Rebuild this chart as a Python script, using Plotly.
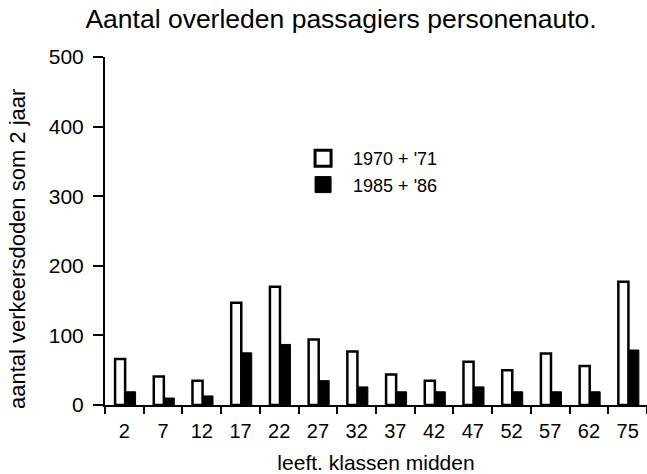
import plotly.graph_objects as go

categories = ["2", "7", "12", "17", "22", "27", "32", "37", "42", "47", "52", "57", "62", "75"]
deaths_1970_71 = [66, 41, 35, 147, 170, 94, 77, 44, 35, 62, 50, 74, 56, 177]
deaths_1985_86 = [19, 10, 13, 75, 87, 35, 26, 19, 19, 26, 19, 19, 19, 79]
y_ticks = [0, 100, 200, 300, 400, 500]
series_names = ["1970 + '71", "1985 + '86"]

FONT = "Liberation Sans, Arial, Helvetica, sans-serif"
W, H = 647, 474

fig = go.Figure()
fig.add_trace(go.Bar(
    x=categories, y=deaths_1970_71, name=series_names[0], showlegend=False,
    marker=dict(color="white", line=dict(color="black", width=2.5)),
    offset=-0.24, width=0.26,
))
fig.add_trace(go.Bar(
    x=categories, y=deaths_1985_86, name=series_names[1], showlegend=False,
    marker=dict(color="black", line=dict(color="black", width=1)),
    offset=0.03, width=0.26,
))
# legend entries (bigger square symbols, no marks in the plot)
fig.add_trace(go.Scatter(
    x=[None], y=[None], mode="markers", name=series_names[0],
    marker=dict(symbol="square", size=16, color="white",
                line=dict(color="black", width=3)),
))
fig.add_trace(go.Scatter(
    x=[None], y=[None], mode="markers", name=series_names[1],
    marker=dict(symbol="square", size=16, color="black",
                line=dict(color="black", width=1)),
))

fig.update_layout(
    width=W, height=H,
    margin=dict(l=105, r=0, t=57, b=69),
    paper_bgcolor="white", plot_bgcolor="white",
    barmode="overlay",
    font=dict(family=FONT, color="black"),
    title=dict(text="Aantal overleden passagiers personenauto.",
               x=341 / W, xanchor="center", xref="container",
               y=1 - 19 / H, yanchor="middle", yref="container",
               font=dict(size=26.5, family=FONT, color="black")),
    showlegend=True,
    legend=dict(x=0.347, y=0.7615, xanchor="left", yanchor="top",
                bgcolor="rgba(0,0,0,0)", font=dict(size=18, family=FONT),
                itemsizing="trace", itemwidth=50, tracegroupgap=0),
    xaxis=dict(type="category", showline=True, linecolor="black", linewidth=2,
               ticks="outside", tickson="boundaries", ticklen=7, tickwidth=2,
               tickcolor="black", showgrid=False, zeroline=False,
               ticklabelstandoff=7,
               tickfont=dict(size=20, family=FONT),
               title=dict(text="leeft. klassen midden", standoff=14,
                          font=dict(size=21, family=FONT))),
    yaxis=dict(range=[0, 500], tickvals=y_ticks, showline=True, linecolor="black",
               linewidth=2, ticks="outside", ticklen=10, tickwidth=2,
               tickcolor="black", showgrid=False, zeroline=False,
               ticklabelstandoff=5,
               tickfont=dict(size=21, family=FONT)),
    annotations=[dict(text="aantal verkeersdoden som 2 jaar", textangle=-90,
                      xref="paper", yref="paper", x=(17 - 105) / 542, y=(405 - 249) / 348,
                      xanchor="center", yanchor="middle", showarrow=False,
                      font=dict(size=22, family=FONT, color="black"))],
)

# remove the page's default body margin so the figure fills the window exactly
fig.write_html("out.html",
               config={"displayModeBar": False},
               post_script="document.body.style.margin='0px';document.body.style.overflow='hidden';")
